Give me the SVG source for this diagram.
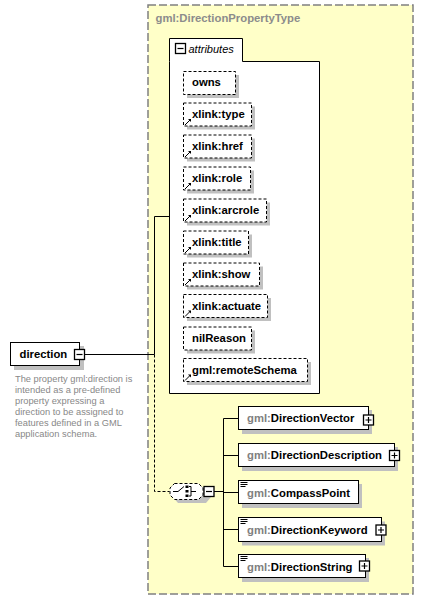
<svg xmlns="http://www.w3.org/2000/svg" width="423" height="600" viewBox="0 0 423 600">
<defs>
<style>
.lbl{font-family:"Liberation Sans",Arial,sans-serif;font-size:11.3px;font-weight:bold;fill:#000}
.ns{fill:#808080}
.title{font-family:"Liberation Sans",Arial,sans-serif;font-size:11.3px;font-weight:bold;fill:#8c8c8c}
.desc{font-family:"Liberation Sans",Arial,sans-serif;font-size:9.3px;fill:#888}
.ital{font-family:"Liberation Sans",Arial,sans-serif;font-size:11px;font-style:italic;fill:#000}
.shadow{fill:#c0c0c0}
.box{fill:#fff;stroke:#000;stroke-width:1}
.abox{fill:#fff;stroke:#000;stroke-width:1;stroke-dasharray:3,2}
.icon{fill:#fff;stroke:#000;stroke-width:1.3}
.conn{fill:none;stroke:#000;stroke-width:1}
.dconn{fill:none;stroke:#000;stroke-width:1;stroke-dasharray:3,2}
.sc{stroke:#000;stroke-width:1}
</style>
<g id="xl">
<path d="M2,-2 L-3,3" stroke="#000" stroke-width="1"/>
<path d="M3,-3 L0,-3 L3,0 Z" fill="#000"/>
</g>
<g id="plus">
<rect x="-5" y="-5" width="10" height="10" fill="#fff" stroke="#000" stroke-width="1.3"/>
<path d="M-3,0 H3 M0,-3 V3" stroke="#000" stroke-width="1.2"/>
</g>
<g id="minus">
<rect x="-5" y="-5" width="10" height="10" fill="#fff" stroke="#000" stroke-width="1.3"/>
<path d="M-3,0 H3" stroke="#000" stroke-width="1.2"/>
</g>
<g id="simple">
<path d="M0,0 H7 M0,2 H7 M0,4 H5" stroke="#000" stroke-width="1"/>
</g>
</defs>
<rect x="0" y="0" width="423" height="600" fill="#fff"/>

<g id="type-DirectionPropertyType">
<rect x="148" y="5" width="265" height="589" fill="#ffffc8" stroke="#808080" stroke-width="1.5" stroke-dasharray="8,3"/>
<text class="title" x="155.5" y="22">gml:DirectionPropertyType</text>
</g>

<g id="attributes">
<path d="M169.5,61.5 V38.5 H242.5 V61.5 H319.5 V393.5 H169.5 Z" fill="#fff" stroke="#000" stroke-width="1"/>
<use href="#minus" x="180.5" y="48.5"/>
<text class="ital" x="188.5" y="53">attributes</text>
</g>

<g id="attr-owns">
<rect class="shadow" x="187" y="75" width="52" height="23"/>
<rect class="abox" x="183.5" y="71.5" width="52" height="23"/>
<text class="lbl" x="192" y="86">owns</text>
</g>
<g id="attr-xlink-type">
<rect class="shadow" x="187" y="106.5" width="68" height="23"/>
<rect class="abox" x="183.5" y="103" width="68" height="23"/>
<text class="lbl" x="192" y="118">xlink:type</text>
<use href="#xl" x="188" y="122"/>
</g>
<g id="attr-xlink-href">
<rect class="shadow" x="187" y="138.5" width="68" height="23"/>
<rect class="abox" x="183.5" y="135" width="68" height="23"/>
<text class="lbl" x="192" y="150">xlink:href</text>
<use href="#xl" x="188" y="154"/>
</g>
<g id="attr-xlink-role">
<rect class="shadow" x="187" y="170.5" width="67" height="23"/>
<rect class="abox" x="183.5" y="167" width="67" height="23"/>
<text class="lbl" x="192" y="182">xlink:role</text>
<use href="#xl" x="188" y="186"/>
</g>
<g id="attr-xlink-arcrole">
<rect class="shadow" x="187" y="202.5" width="83" height="23"/>
<rect class="abox" x="183.5" y="199" width="83" height="23"/>
<text class="lbl" x="192" y="214">xlink:arcrole</text>
<use href="#xl" x="188" y="218"/>
</g>
<g id="attr-xlink-title">
<rect class="shadow" x="187" y="234.5" width="65" height="23"/>
<rect class="abox" x="183.5" y="231" width="65" height="23"/>
<text class="lbl" x="192" y="246">xlink:title</text>
<use href="#xl" x="188" y="250"/>
</g>
<g id="attr-xlink-show">
<rect class="shadow" x="187" y="266.5" width="76" height="23"/>
<rect class="abox" x="183.5" y="263" width="76" height="23"/>
<text class="lbl" x="192" y="278">xlink:show</text>
<use href="#xl" x="188" y="282"/>
</g>
<g id="attr-xlink-actuate">
<rect class="shadow" x="187" y="298" width="84" height="23"/>
<rect class="abox" x="183.5" y="294.5" width="84" height="23"/>
<text class="lbl" x="192" y="309.5">xlink:actuate</text>
<use href="#xl" x="188" y="313.5"/>
</g>
<g id="attr-nilReason">
<rect class="shadow" x="187" y="330.5" width="68" height="23"/>
<rect class="abox" x="183.5" y="327" width="68" height="23"/>
<text class="lbl" x="192" y="342">nilReason</text>
</g>
<g id="attr-gml-remoteSchema">
<rect class="shadow" x="187" y="362" width="124" height="23"/>
<rect class="abox" x="183.5" y="358.5" width="124" height="23"/>
<text class="lbl" x="192" y="373.5">gml:remoteSchema</text>
<use href="#xl" x="188" y="377.5"/>
</g>

<g id="connectors">
<path class="conn" d="M84.5,354.5 H154.5 M154.5,216.5 V354.5 M154.5,216.5 H169.5"/>
<path class="dconn" d="M154.5,354.5 V491.5 H169.5"/>
<path class="conn" d="M214,491.5 H223.5 M223.5,418.5 V566.5 M223.5,418.5 H238.5 M223.5,455.5 H238.5 M223.5,492.5 H238.5 M223.5,529.5 H238.5 M223.5,566.5 H238.5"/>
</g>

<g id="direction">
<rect class="shadow" x="14" y="346" width="70" height="24"/>
<rect class="box" x="10.5" y="342.5" width="69" height="23"/>
<text class="lbl" x="19.5" y="358">direction</text>
<use href="#minus" x="79.5" y="354.5"/>
<text class="desc" x="15" y="382">The property gml:direction is</text>
<text class="desc" x="15" y="393">intended as a pre-defined</text>
<text class="desc" x="15" y="404">property expressing a</text>
<text class="desc" x="15" y="415">direction to be assigned to</text>
<text class="desc" x="15" y="426">features defined in a GML</text>
<text class="desc" x="15" y="437">application schema.</text>
</g>

<g id="choice">
<path d="M178,487 L182,487 L206,487 L211,491.5 L211,497 L206,503 L178,503 L173,497 L173,491.5 Z" fill="#c0c0c0" transform="translate(-0,0)"/>
<path d="M174.5,483.5 H198.5 L203,488 V495 L198.5,499.5 H174.5 L170,495 V488 Z" fill="#fff" stroke="#000" stroke-width="1" stroke-dasharray="3,2"/>
<path d="M173,491.5 H178 L184,486.5" fill="none" stroke="#000" stroke-width="1"/>
<rect x="185.5" y="485.5" width="3" height="2.5" fill="#000"/>
<rect x="185.5" y="490" width="3" height="2.5" fill="#000"/>
<rect x="185.5" y="494.5" width="3" height="2.5" fill="#000"/>
<path d="M189,486.5 H191 V496 H189 M191,491.5 H196" fill="none" stroke="#000" stroke-width="1"/>
<use href="#minus" x="209" y="491.5"/>
</g>

<g id="el-DirectionVector">
<rect class="shadow" x="242" y="410" width="130" height="24"/>
<rect class="box" x="238.5" y="406.5" width="130" height="23"/>
<text class="lbl" x="247" y="422"><tspan class="ns">gml:</tspan>DirectionVector</text>
<use href="#plus" x="368.5" y="420"/>
</g>
<g id="el-DirectionDescription">
<rect class="shadow" x="242" y="447" width="156" height="24"/>
<rect class="box" x="238.5" y="443.5" width="156" height="23"/>
<text class="lbl" x="247" y="459"><tspan class="ns">gml:</tspan>DirectionDescription</text>
<use href="#plus" x="394.5" y="455.5"/>
</g>
<g id="el-CompassPoint">
<rect class="shadow" x="242" y="484" width="120" height="24"/>
<rect class="box" x="238.5" y="480.5" width="120" height="23"/>
<use href="#simple" x="240.5" y="482.5"/>
<text class="lbl" x="247" y="496.5"><tspan class="ns">gml:</tspan>CompassPoint</text>
</g>
<g id="el-DirectionKeyword">
<rect class="shadow" x="242" y="521.5" width="143" height="24"/>
<rect class="box" x="238.5" y="517.5" width="143" height="24"/>
<use href="#simple" x="240.5" y="519.5"/>
<text class="lbl" x="247" y="533.5"><tspan class="ns">gml:</tspan>DirectionKeyword</text>
<use href="#plus" x="381" y="530"/>
</g>
<g id="el-DirectionString">
<rect class="shadow" x="242" y="558" width="127" height="24"/>
<rect class="box" x="238.5" y="554.5" width="127" height="23"/>
<use href="#simple" x="240.5" y="556.5"/>
<text class="lbl" x="247" y="570.5"><tspan class="ns">gml:</tspan>DirectionString</text>
<use href="#plus" x="364.5" y="566"/>
</g>
</svg>
